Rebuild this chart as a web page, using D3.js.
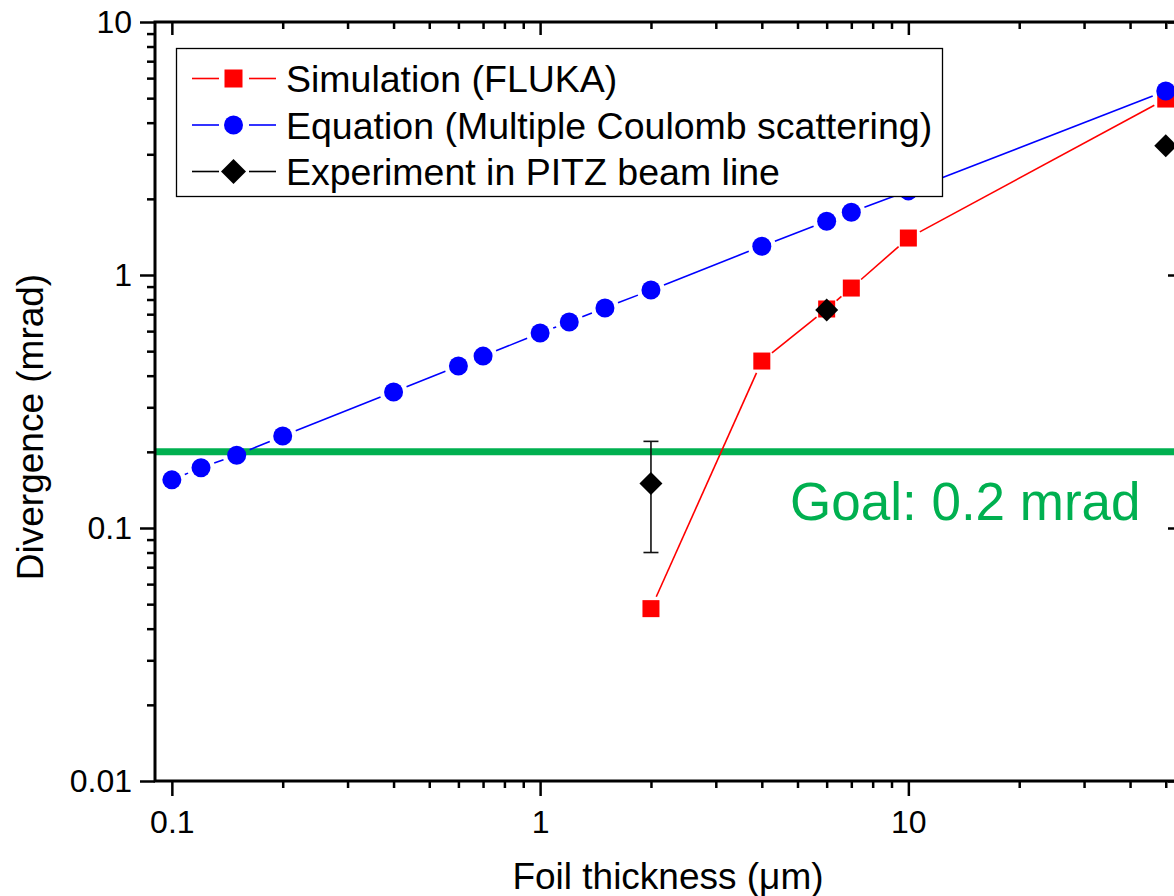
<!DOCTYPE html>
<html><head><meta charset="utf-8">
<script src="https://cdn.jsdelivr.net/npm/d3@7"></script>
<style>body{margin:0;background:#fff}svg{display:block;font-family:"Liberation Sans",Arial,sans-serif}</style>
</head><body><svg id="c" width="1174" height="896"></svg>
<script>
// ---- data ----
const seriesNames = ["Simulation (FLUKA)", "Equation (Multiple Coulomb scattering)", "Experiment in PITZ beam line"];
const simX = [2, 4, 6, 7, 10, 50];
const simY = [0.048, 0.457, 0.734, 0.888, 1.40, 4.96];
const eqX = [0.1, 0.12, 0.15, 0.2, 0.4, 0.6, 0.7, 1, 1.2, 1.5, 2, 4, 6, 7, 10, 50];
const eqY = [0.155, 0.173, 0.194, 0.231, 0.345, 0.437, 0.478, 0.59, 0.652, 0.741, 0.872, 1.30, 1.63, 1.77, 2.15, 5.34];
const expX = [2, 6, 50];
const expY = [0.15, 0.727, 3.24];
const expErrLow = [0.08, null, null];
const expErrHigh = [0.22, null, null];
const goalValue = 0.2;
const goalLabel = "Goal: 0.2 mrad";
const xDomain = [0.09, 55];
const yDomain = [0.01, 10];
const xMajor = [0.1, 1, 10];
const xTickLabels = ["0.1", "1", "10"];
const xMinor = [0.2,0.3,0.4,0.5,0.6,0.7,0.8,0.9,2,3,4,5,6,7,8,9,20,30,40,50];
const yMajor = [0.01, 0.1, 1, 10];
const yTickLabels = ["0.01", "0.1", "1", "10"];
const yMinor = [0.02,0.03,0.04,0.05,0.06,0.07,0.08,0.09,0.2,0.3,0.4,0.5,0.6,0.7,0.8,0.9,2,3,4,5,6,7,8,9];
const xTitle = "Foil thickness (μm)";
const yTitle = "Divergence (mrad)";

// ---- layout ----
const M = {left:155, right:1181, top:22, bottom:781};
const RED = "#ff0000", BLUE = "#0000ff", BLACK = "#000000", GREEN = "#00b050";
const svg = d3.select("#c");
const x = d3.scaleLog().domain(xDomain).range([M.left, M.right]);
const y = d3.scaleLog().domain(yDomain).range([M.bottom, M.top]);

function styleAxis(g){
  g.select(".domain").remove();
  g.selectAll(".tick line").attr("stroke", "#000").attr("stroke-width", 2.5);
  g.selectAll(".tick text").attr("fill", "#000").style("font-family", '"Liberation Sans",Arial,sans-serif');
}
// bottom
svg.append("g").attr("transform", `translate(0,${M.bottom})`)
  .call(d3.axisBottom(x).tickValues(xMajor).tickSize(15).tickPadding(14).tickFormat((d,i)=>xTickLabels[i]))
  .call(styleAxis).selectAll("text").style("font-size", "32px");
svg.append("g").attr("transform", `translate(0,${M.bottom})`)
  .call(d3.axisBottom(x).tickValues(xMinor).tickSize(7).tickFormat("")).call(styleAxis);
// top (inward)
svg.append("g").attr("transform", `translate(0,${M.top})`)
  .call(d3.axisBottom(x).tickValues(xMajor).tickSize(13).tickFormat("")).call(styleAxis);
svg.append("g").attr("transform", `translate(0,${M.top})`)
  .call(d3.axisBottom(x).tickValues(xMinor).tickSize(7).tickFormat("")).call(styleAxis);
// left
svg.append("g").attr("transform", `translate(${M.left},0)`)
  .call(d3.axisLeft(y).tickValues(yMajor).tickSize(15).tickPadding(8).tickFormat((d,i)=>yTickLabels[i]))
  .call(styleAxis).selectAll("text").style("font-size", "32px");
svg.append("g").attr("transform", `translate(${M.left},0)`)
  .call(d3.axisLeft(y).tickValues(yMinor).tickSize(8).tickFormat("")).call(styleAxis);
// right (inward)
svg.append("g").attr("transform", `translate(${M.right},0)`)
  .call(d3.axisLeft(y).tickValues(yMajor).tickSize(13).tickFormat("")).call(styleAxis);
svg.append("g").attr("transform", `translate(${M.right},0)`)
  .call(d3.axisLeft(y).tickValues(yMinor).tickSize(7).tickFormat("")).call(styleAxis);

// titles
svg.append("text").attr("x", (M.left+M.right)/2).attr("y", 889).attr("text-anchor","middle")
  .style("font-size","37px").text(xTitle);
svg.append("text").attr("transform", `translate(43,${427}) rotate(-90)`).attr("text-anchor","middle")
  .style("font-size","37px").text(yTitle);

// goal line
svg.append("line").attr("x1", M.left).attr("x2", M.right).attr("y1", y(goalValue)).attr("y2", y(goalValue))
  .attr("stroke", GREEN).attr("stroke-width", 7);
svg.append("text").attr("x", 790).attr("y", 520).attr("fill", GREEN).style("font-size","53px").text(goalLabel);

// gapped connecting lines
function gapped(xs, ys, gap, color){
  const pts = xs.map((v,i)=>[x(v), y(ys[i])]);
  const segs = [];
  for(let i=0;i<pts.length-1;i++){
    const [x0,y0]=pts[i],[x1,y1]=pts[i+1];
    const dx=x1-x0, dy=y1-y0, L=Math.hypot(dx,dy);
    if(L>2*gap){ const ux=dx/L, uy=dy/L; segs.push([x0+ux*gap,y0+uy*gap,x1-ux*gap,y1-uy*gap]); }
  }
  svg.append("g").selectAll("line").data(segs).join("line")
    .attr("x1",d=>d[0]).attr("y1",d=>d[1]).attr("x2",d=>d[2]).attr("y2",d=>d[3])
    .attr("stroke",color).attr("stroke-width",1.6);
}
gapped(simX, simY, 13, RED);
gapped(eqX, eqY, 14, BLUE);

// markers
const SQ = 17, CR = 9.5, DM = 11.5;
svg.append("g").selectAll("rect").data(simX).join("rect")
  .attr("x",(d,i)=>x(d)-SQ/2).attr("y",(d,i)=>y(simY[i])-SQ/2).attr("width",SQ).attr("height",SQ).attr("fill",RED);
svg.append("g").selectAll("circle").data(eqX).join("circle")
  .attr("cx",d=>x(d)).attr("cy",(d,i)=>y(eqY[i])).attr("r",CR).attr("fill",BLUE);
// error bars
const eb = svg.append("g").attr("stroke","#111").attr("stroke-width",1.6);
expX.forEach((d,i)=>{
  if(expErrLow[i]==null) return;
  const cx=x(d), yl=y(expErrLow[i]), yh=y(expErrHigh[i]);
  eb.append("line").attr("x1",cx).attr("x2",cx).attr("y1",yh).attr("y2",yl);
  eb.append("line").attr("x1",cx-7.5).attr("x2",cx+7.5).attr("y1",yh).attr("y2",yh);
  eb.append("line").attr("x1",cx-7.5).attr("x2",cx+7.5).attr("y1",yl).attr("y2",yl);
});
const diamond = (cx,cy,h)=>`M${cx},${cy-h}L${cx+h},${cy}L${cx},${cy+h}L${cx-h},${cy}Z`;
svg.append("g").selectAll("path").data(expX).join("path")
  .attr("d",(d,i)=>diamond(x(d), y(expY[i]), DM)).attr("fill",BLACK);

// frame
svg.append("rect").attr("x",M.left).attr("y",M.top).attr("width",M.right-M.left).attr("height",M.bottom-M.top)
  .attr("fill","none").attr("stroke","#000").attr("stroke-width",3);

// legend
const lg = svg.append("g");
lg.append("rect").attr("x",176.5).attr("y",48.5).attr("width",766).attr("height",148)
  .attr("fill","#fff").attr("stroke","#000").attr("stroke-width",1.3);
const rowsY = [78.5, 125, 171.5];
const colors = [RED, BLUE, BLACK];
seriesNames.forEach((name,i)=>{
  const ry = rowsY[i];
  lg.append("line").attr("x1",192).attr("x2",219).attr("y1",ry).attr("y2",ry).attr("stroke",colors[i]).attr("stroke-width",1.6);
  lg.append("line").attr("x1",249).attr("x2",276).attr("y1",ry).attr("y2",ry).attr("stroke",colors[i]).attr("stroke-width",1.6);
  if(i===0) lg.append("rect").attr("x",233.5-9).attr("y",ry-9).attr("width",18).attr("height",18).attr("fill",RED);
  if(i===1) lg.append("circle").attr("cx",233.5).attr("cy",ry).attr("r",9.5).attr("fill",BLUE);
  if(i===2) lg.append("path").attr("d",diamond(233.5,ry,12.5)).attr("fill",BLACK);
  lg.append("text").attr("x",286).attr("y",ry+13.5).style("font-size","37.5px").text(name);
});
</script></body></html>
